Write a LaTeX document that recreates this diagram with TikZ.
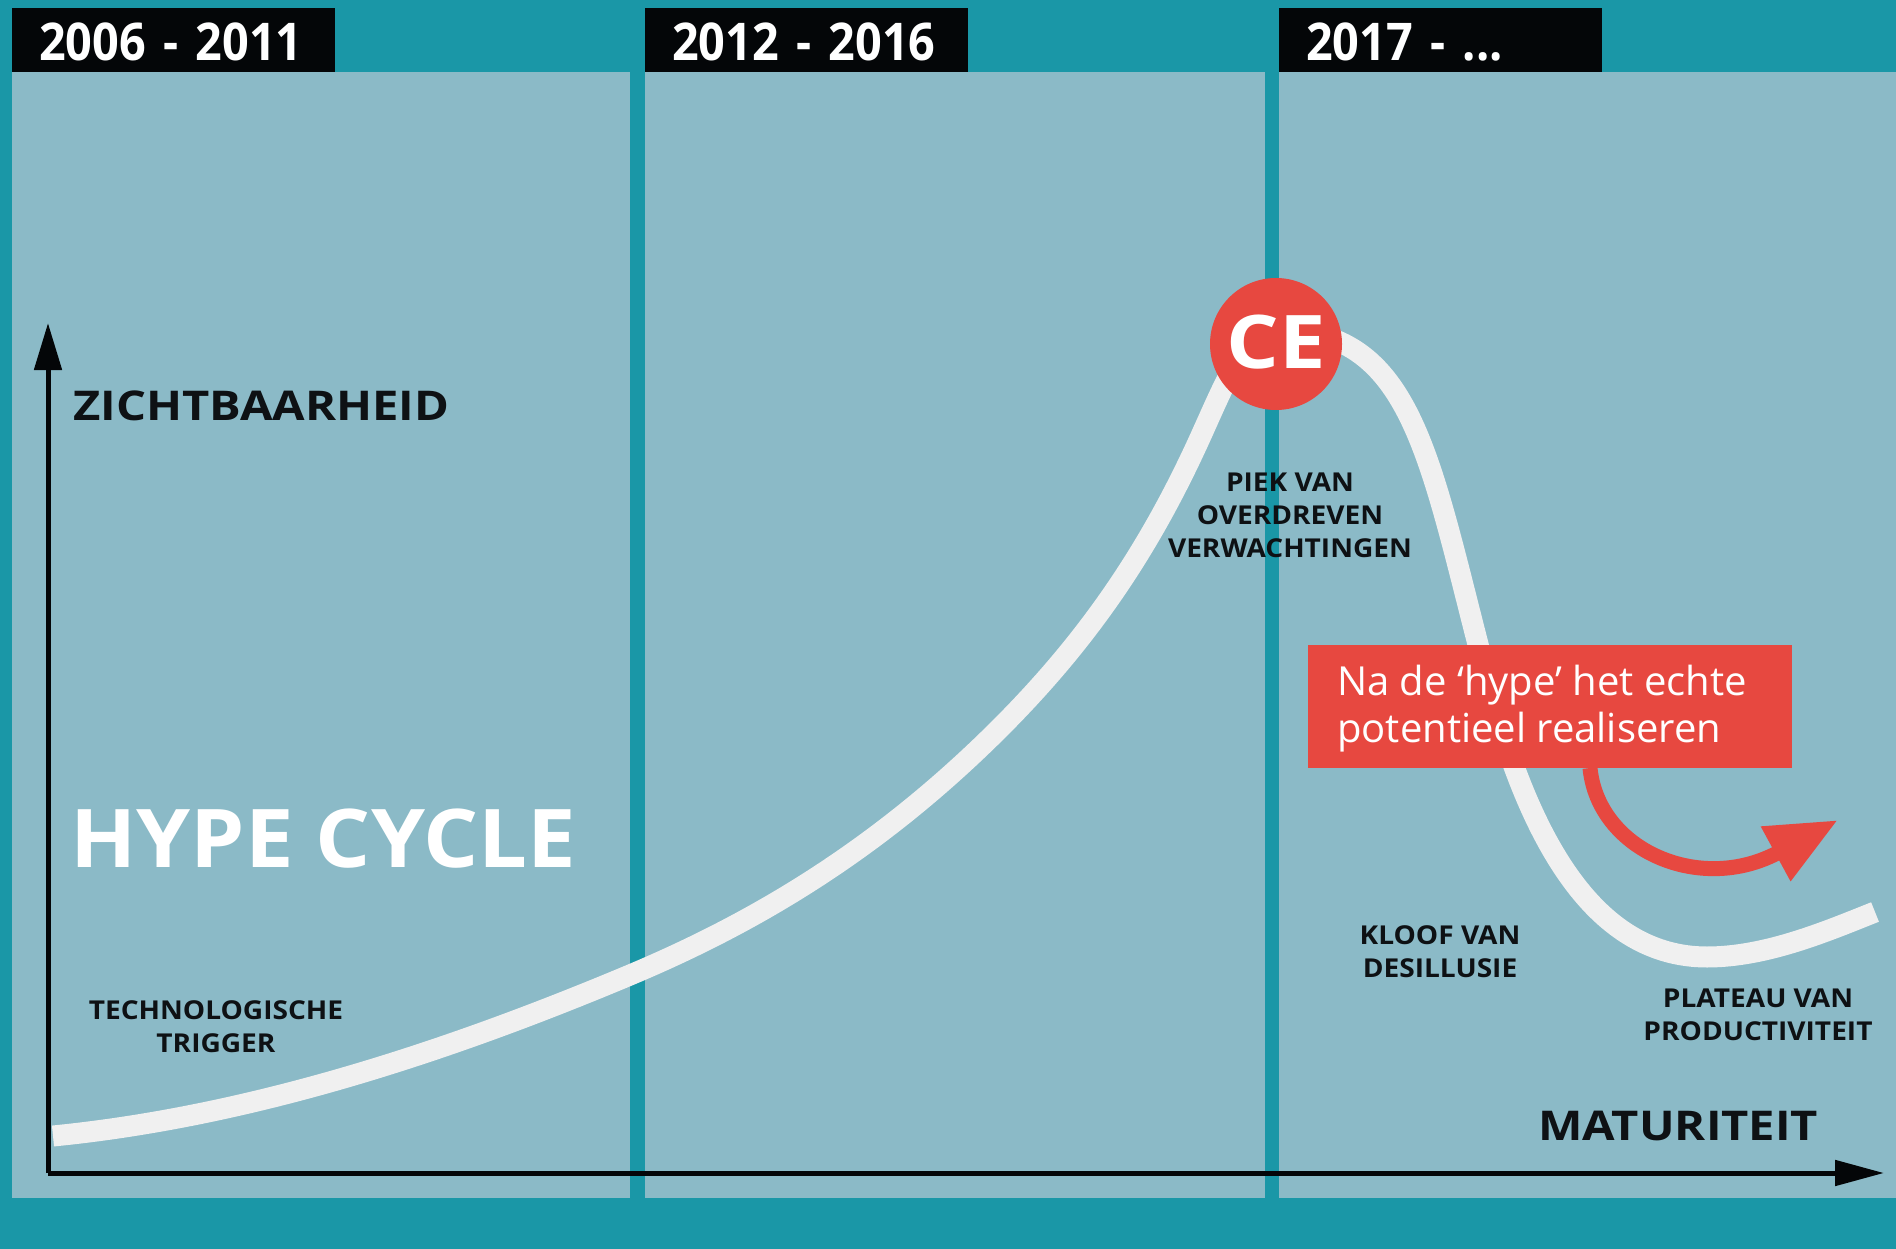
\documentclass[tikz,border=0pt]{standalone}
\usepackage{fontspec}
\setmainfont{Open Sans}
\newfontfamily\labfont{Open Sans}[FakeStretch=1.08]
\newfontfamily\axfont{Open Sans}[FakeStretch=1.15]
\newfontfamily\hypefont{Open Sans}[FakeStretch=1.07]
\newfontfamily\cefont{Open Sans}[FakeStretch=1.12]
\newfontfamily\yearfont{Open Sans}[FakeStretch=0.9]
\usetikzlibrary{arrows.meta}
\definecolor{hcteal}{RGB}{26,151,167}
\definecolor{hcpanel}{RGB}{139,186,199}
\definecolor{hcred}{RGB}{231,72,64}
\definecolor{hccurve}{RGB}{240,240,240}
\definecolor{hcink}{RGB}{14,17,20}
\definecolor{hcblack}{RGB}{4,6,8}
\tikzset{
  panel/.style={fill=hcpanel},
  yearbox/.style={fill=hcblack, text=white, anchor=north west, minimum height=64pt,
    text width=269pt, inner xsep=27pt, inner ysep=0pt, align=left,
    text height=40pt, text depth=0pt,
    font=\yearfont\fontsize{52}{52}\selectfont\bfseries},
  lab/.style={text=hcink, inner sep=0pt, align=center, anchor=north,
    font=\labfont\fontsize{26}{33}\selectfont\bfseries},
  axlab/.style={text=hcink, inner sep=0pt, anchor=base west,
    font=\axfont\fontsize{41}{41}\selectfont\bfseries},
  axis/.style={draw=hcblack, line width=5pt},
}
\begin{document}
\begin{tikzpicture}[x=1pt,y=-1pt]
\fill[hcteal] (0,0) rectangle (1896,1249);
\useasboundingbox (0,0) rectangle (1896,1249);
% panels
\fill[panel] (12,72) rectangle (630,1198);
\fill[panel] (645,72) rectangle (1265,1198);
\fill[panel] (1279,72) rectangle (1896,1198);
% year boxes
\node[yearbox] (y1) at (12,8) {2006 - 2011};
\node[yearbox] (y2) at (645,8) {2012 - 2016};
\node[yearbox] (y3) at (1279,8) {2017 - ...};
% hype curve
\draw[hccurve, line width=21pt, line cap=butt]
  (53,1136) .. controls (245,1117) and (438,1055.6) .. (630,975)
  .. controls (753,923.3) and (877,851) .. (1000,728)
  .. controls (1090,638) and (1150,548) .. (1200,438)
  .. controls (1225,383) and (1245,330) .. (1278,330)
  .. controls (1418,330) and (1430.2,467.8) .. (1490,690)
  .. controls (1531.6,844.6) and (1597,957) .. (1707,957)
  .. controls (1767,957) and (1828.5,930.5) .. (1875,912);
% axes
\coordinate (origin) at (48,1173);
\coordinate (ytop) at (48,323);
\coordinate (xend) at (1884,1173);
\draw[axis, -{Triangle[length=47pt,width=27pt]}] (origin) -- (ytop);
\draw[axis, -{Triangle[length=49pt,width=25pt]}] (origin) -- (xend);
% labels
\node[axlab] (zicht) at (73,420) {ZICHTBAARHEID};
\node[axlab] (mat) at (1538,1140) {MATURITEIT};
\node[text=white, inner sep=0pt, anchor=base west,
  font=\hypefont\fontsize{81}{81}\selectfont\bfseries] (hype) at (70,867) {HYPE CYCLE};
\node[lab] (trig) at (216,1000) {TECHNOLOGISCHE\\TRIGGER};
\node[lab] (piek) at (1290,473) {PIEK VAN\\OVERDREVEN\\VERWACHTINGEN};
\node[lab] (kloof) at (1440,925) {KLOOF VAN\\DESILLUSIE};
\node[lab] (plat) at (1758,989) {PLATEAU VAN\\PRODUCTIVITEIT};
% CE circle
\node[circle, fill=hcred, minimum size=132pt, inner sep=0pt] (ce) at (1276,344) {};
\node[text=white, inner sep=0pt, font=\cefont\fontsize{74}{74}\selectfont\bfseries]
  (cetxt) at (1276,342) {CE};
% red box
\node[fill=hcred, anchor=north west, minimum width=484pt, minimum height=123pt, inner sep=0pt] (box) at (1308,645) {};
\node[text=white, inner sep=0pt, anchor=north west, align=left,
  font=\fontsize{40}{47}\selectfont] (boxtxt) at (1337,665) {Na de ‘hype’ het echte\\potentieel realiseren};
\coordinate (arrstart) at (1590,768);
\coordinate (arrtip) at (1838,820);
\draw[hcred, line width=15pt, -{Triangle[length=71pt,width=58pt]}]
  (arrstart) .. controls (1598,850) and (1700,895) .. (arrtip);
\end{tikzpicture}
\end{document}
